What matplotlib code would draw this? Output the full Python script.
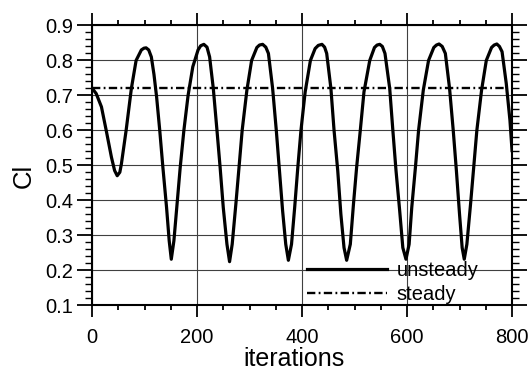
import matplotlib
matplotlib.use("Agg")
import matplotlib.pyplot as plt
from matplotlib.ticker import MultipleLocator

# --- lift coefficient history ---
unsteady_iter = [0, 8, 18, 27, 37, 43, 48, 53, 56, 65, 75, 84, 94, 99, 103, 108, 113, 118,
                 123, 129, 135, 142, 147, 151, 156, 162, 168, 175, 183, 192, 202,
                 207, 213, 219, 224, 231, 238, 244, 250, 257, 262, 267, 274, 280,
                 286, 295, 304, 314, 319, 325, 331, 336, 344, 351, 357, 363, 369,
                 374, 380, 386, 392, 398, 406, 416, 425, 431, 438, 443, 447, 455,
                 461, 468, 474, 480, 485, 492, 498, 504, 511, 518, 529, 538, 543,
                 548, 553, 558, 567, 573, 579, 586, 592, 598, 604, 609, 616, 622,
                 631, 641, 651, 656, 661, 667, 673, 681, 688, 694, 700, 705, 709,
                 714, 721, 727, 733, 742, 751, 761, 766, 771, 776, 781, 789, 796, 800]
unsteady_cl = [0.721, 0.705, 0.667, 0.600, 0.523, 0.485, 0.470, 0.480, 0.504, 0.600,
               0.720, 0.800, 0.830, 0.835, 0.836, 0.830, 0.810, 0.760, 0.696, 0.600,
               0.494, 0.379, 0.284, 0.231, 0.284, 0.389, 0.494, 0.600, 0.700, 0.782,
               0.830, 0.842, 0.846, 0.838, 0.810, 0.720, 0.600, 0.494, 0.379, 0.274,
               0.224, 0.274, 0.389, 0.494, 0.600, 0.715, 0.800, 0.837, 0.844, 0.846,
               0.838, 0.820, 0.720, 0.600, 0.485, 0.370, 0.274, 0.228, 0.274, 0.379,
               0.494, 0.600, 0.710, 0.800, 0.834, 0.843, 0.846, 0.838, 0.820, 0.720,
               0.600, 0.485, 0.360, 0.264, 0.228, 0.274, 0.389, 0.494, 0.600, 0.710,
               0.800, 0.837, 0.844, 0.846, 0.840, 0.820, 0.720, 0.600, 0.485, 0.370,
               0.264, 0.231, 0.274, 0.379, 0.494, 0.600, 0.715, 0.800, 0.837, 0.844,
               0.847, 0.840, 0.820, 0.720, 0.600, 0.485, 0.360, 0.264, 0.231, 0.274,
               0.389, 0.494, 0.600, 0.715, 0.800, 0.837, 0.844, 0.847, 0.840, 0.825,
               0.734, 0.629, 0.542]

steady_iter = [0, 790]
steady_cl = [0.72, 0.72]

plt.rcParams["font.family"] = ["Liberation Sans", "DejaVu Sans"]
plt.rcParams["lines.scale_dashes"] = False

fig = plt.figure(figsize=(5.3, 3.72), dpi=100)
ax = fig.add_axes([0.1736, 0.1801, 0.7925, 0.7514])

ax.plot(unsteady_iter, unsteady_cl, color="black", lw=2.3,
        solid_joinstyle="round", label="unsteady", zorder=3)
ax.plot(steady_iter, steady_cl, color="black", lw=1.7,
        linestyle=(0, (6, 2.4, 1.3, 2.4)), label="steady", zorder=3)

ax.set_xlim(0, 800)
ax.set_ylim(0.1, 0.9)
ax.xaxis.set_major_locator(MultipleLocator(200))
ax.xaxis.set_minor_locator(MultipleLocator(50))
ax.yaxis.set_major_locator(MultipleLocator(0.1))
ax.yaxis.set_minor_locator(MultipleLocator(0.02))

ax.grid(True, which="major", color="0.25", lw=0.8)
for s in ax.spines.values():
    s.set_linewidth(1.5)

ax.tick_params(which="both", direction="out", top=True, right=True,
               labelsize=14.5, width=1.3, colors="black")
ax.tick_params(axis="x", which="major", length=8.6, pad=8)
ax.tick_params(axis="x", which="minor", length=3.6)
ax.tick_params(axis="y", which="major", length=10.8, pad=3)
ax.tick_params(axis="y", which="minor", length=5, width=1.0)

ax.set_xlabel("iterations", fontsize=18)
ax.set_ylabel("Cl", fontsize=18.5)
ax.xaxis.set_label_coords(0.481, -0.152)
ax.yaxis.set_label_coords(-0.135, 0.463)

ax.legend(loc="upper left", bbox_to_anchor=(0.511, 0.159), frameon=False,
          fontsize=14.5, handlelength=4.0, handletextpad=0.46,
          labelspacing=0.28, borderpad=0, borderaxespad=0)

fig.savefig("out.png", dpi=100)
